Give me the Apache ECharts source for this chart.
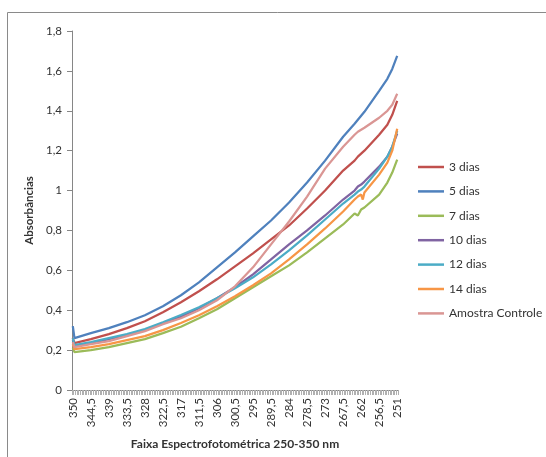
<!DOCTYPE html>
<html>
<head>
<meta charset="utf-8">
<script src="https://cdn.jsdelivr.net/npm/echarts@6/dist/echarts.min.js"></script>
<style>
  html, body { margin: 0; padding: 0; background: #fff; }
  #chart { width: 546px; height: 457px; }
</style>
</head>
<body>
<div id="chart"></div>
<script>
// Wavelength range of the scan, nm (category axis runs 350 -> 251 in 0.5 nm steps)
const startNm = 350;
const endNm = 251;
const stepNm = 0.5;

// Wavelengths at which absorbance was sampled for each curve
const sampleNm = [350, 349.5, 344.5, 339, 333.5, 328, 322.5, 317, 311.5, 306, 300.5, 295,
  289.5, 284, 278.5, 273, 267.5, 264, 263.5, 263, 262, 261.5, 261, 256.5, 254, 252.5, 251];

const seriesNames = ['3 dias', '5 dias', '7 dias', '10 dias', '12 dias', '14 dias', 'Amostra Controle'];

const dias3 = [0.26, 0.235, 0.255, 0.28, 0.31, 0.345, 0.39, 0.44, 0.495, 0.555, 0.62, 0.685,
  0.755, 0.825, 0.91, 1.0, 1.10, 1.15, 1.16, 1.17, 1.185, 1.19, 1.20, 1.28, 1.33, 1.38, 1.45];
const dias5 = [0.32, 0.26, 0.285, 0.31, 0.34, 0.375, 0.42, 0.475, 0.54, 0.615, 0.69, 0.77,
  0.85, 0.94, 1.04, 1.15, 1.27, 1.335, 1.345, 1.355, 1.375, 1.385, 1.395, 1.50, 1.56, 1.61, 1.675];
const dias7 = [0.21, 0.19, 0.20, 0.215, 0.235, 0.255, 0.285, 0.317, 0.36, 0.405, 0.46, 0.515,
  0.57, 0.625, 0.69, 0.76, 0.83, 0.885, 0.89, 0.875, 0.905, 0.91, 0.915, 0.98, 1.04, 1.09, 1.155];
const dias10 = [0.25, 0.22, 0.235, 0.255, 0.275, 0.30, 0.335, 0.367, 0.41, 0.46, 0.515, 0.58,
  0.655, 0.73, 0.80, 0.875, 0.955, 1.0, 1.01, 1.02, 1.03, 1.04, 1.045, 1.12, 1.17, 1.22, 1.285];
const dias12 = [0.26, 0.225, 0.24, 0.26, 0.28, 0.305, 0.34, 0.376, 0.415, 0.46, 0.51, 0.565,
  0.63, 0.70, 0.775, 0.855, 0.935, 0.98, 0.99, 0.995, 1.005, 1.015, 1.02, 1.11, 1.17, 1.22, 1.30];
const dias14 = [0.23, 0.205, 0.215, 0.23, 0.25, 0.27, 0.30, 0.336, 0.375, 0.42, 0.47, 0.525,
  0.585, 0.655, 0.73, 0.81, 0.895, 0.955, 0.965, 0.97, 0.98, 0.955, 0.99, 1.08, 1.14, 1.20, 1.31];
const controle = [0.24, 0.215, 0.23, 0.245, 0.27, 0.295, 0.33, 0.36, 0.40, 0.45, 0.52, 0.615,
  0.73, 0.845, 0.97, 1.11, 1.22, 1.28, 1.29, 1.295, 1.305, 1.31, 1.315, 1.365, 1.40, 1.43, 1.485];

const seriesValues = [dias3, dias5, dias7, dias10, dias12, dias14, controle];
const seriesColors = ['#C0504D', '#4F81BD', '#9BBB59', '#8064A2', '#4BACC6', '#F79646', '#DA9694'];

// Portuguese number formatting (decimal comma)
const fmt = n => String(n).replace('.', ',');

// Category labels: 350, 349,5, ... 251
const categories = [];
for (let w = startNm; w >= endNm - 1e-9; w -= stepNm) {
  categories.push(fmt(Math.round(w * 10) / 10));
}

const font = 'Lato, "Open Sans", sans-serif';
const axisGray = '#868686';

const chart = echarts.init(document.getElementById('chart'), null, { renderer: 'canvas' });

chart.setOption({
  animation: false,
  backgroundColor: '#fff',
  graphic: [{
    type: 'rect',
    shape: { x: 7.5, y: 12.5, width: 600, height: 500 },
    style: { fill: 'none', stroke: '#8a8a8a', lineWidth: 1 },
    silent: true
  }],
  grid: { left: 72, top: 31, right: 148, bottom: 67 },
  legend: {
    orient: 'vertical',
    left: 413,
    top: 156,
    icon: 'rect',
    itemWidth: 26,
    itemHeight: 2.5,
    itemGap: 12.4,
    data: seriesNames,
    textStyle: { fontFamily: font, fontSize: 12, color: '#333', lineHeight: 12 }
  },
  xAxis: {
    type: 'category',
    data: categories,
    boundaryGap: true,
    name: 'Faixa Espectrofotométrica 250-350 nm',
    nameLocation: 'middle',
    nameGap: 48,
    nameTextStyle: { fontFamily: font, fontSize: 12, fontWeight: 'bold', color: '#333' },
    axisLine: { lineStyle: { color: axisGray, width: 1 } },
    axisTick: { show: true, interval: 0, length: 5, lineStyle: { color: '#b0b0b0' } },
    axisLabel: {
      interval: 10,
      rotate: 90,
      margin: 8,
      fontFamily: font,
      fontSize: 11.5,
      color: '#333'
    },
    splitLine: { show: false }
  },
  yAxis: {
    type: 'value',
    min: 0,
    max: 1.8,
    interval: 0.2,
    name: 'Absorbâncias',
    nameLocation: 'middle',
    nameGap: 35,
    nameTextStyle: { fontFamily: font, fontSize: 11.5, fontWeight: 'bold', color: '#333' },
    axisLine: { show: true, lineStyle: { color: axisGray, width: 1 } },
    axisTick: { show: true, length: 5, lineStyle: { color: axisGray } },
    axisLabel: {
      margin: 10,
      fontFamily: font,
      fontSize: 11.5,
      color: '#333',
      formatter: v => fmt(Math.round(v * 10) / 10)
    },
    splitLine: { show: false }
  },
  series: seriesNames.map((name, i) => ({
    name,
    type: 'line',
    symbol: 'none',
    showSymbol: false,
    color: seriesColors[i],
    lineStyle: { width: 2.25, color: seriesColors[i] },
    data: sampleNm.map((w, j) => [fmt(w), seriesValues[i][j]])
  }))
});
</script>
</body>
</html>
